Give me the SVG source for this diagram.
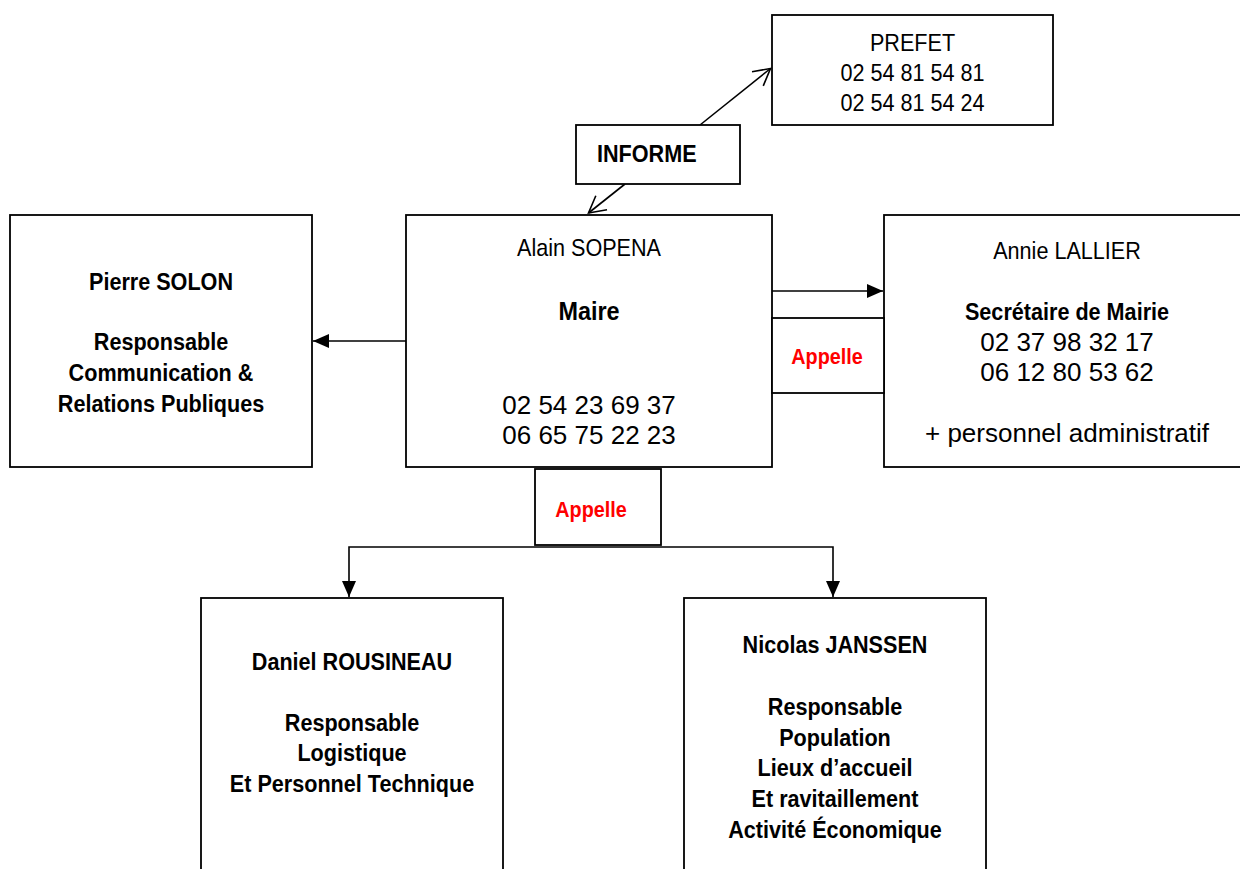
<svg xmlns="http://www.w3.org/2000/svg" width="1240" height="869" viewBox="0 0 1240 869">
<style>
.box{fill:#fff;stroke:#000;stroke-width:1.8}
.t{font-family:"Liberation Sans",Arial,sans-serif;font-size:24px;fill:#000;text-anchor:middle}
.b{font-weight:bold}
.ph{font-size:26px}
.red{fill:#f00;font-weight:bold;font-size:22px}
.c{stroke:#000;stroke-width:1.6;fill:none}
</style>
<defs>
<marker id="fa" markerUnits="userSpaceOnUse" markerWidth="16" markerHeight="14" refX="16" refY="7" orient="auto" overflow="visible">
<path d="M0,0 L16,7 L0,14 Z" fill="#000"/>
</marker>
<marker id="oa" markerUnits="userSpaceOnUse" markerWidth="20" markerHeight="20" refX="17" refY="9.5" orient="auto" overflow="visible">
<path d="M0.5,0.5 L17,9.5 L0.5,18.5" fill="none" stroke="#000" stroke-width="1.6"/>
</marker>
</defs>
<rect width="1240" height="869" fill="#fff"/>

<g id="connectors">
<line class="c" x1="406" y1="341" x2="313" y2="341" marker-end="url(#fa)"/>
<line class="c" x1="772" y1="291" x2="883" y2="291" marker-end="url(#fa)"/>
<line class="c" x1="700" y1="125" x2="770.5" y2="68.5" marker-end="url(#oa)"/>
<line class="c" x1="625" y1="184" x2="588.5" y2="213" marker-end="url(#oa)"/>
<path class="c" d="M591,547 H349 V597" marker-end="url(#fa)"/>
<path class="c" d="M591,547 H833 V597" marker-end="url(#fa)"/>
</g>

<g id="prefet">
<rect class="box" x="772" y="15" width="281" height="110"/>
<g transform="translate(912.5,0) scale(0.9,1)">
<text class="t" x="0" y="51.5">PREFET</text>
<text class="t" x="0" y="81.5">02 54 81 54 81</text>
<text class="t" x="0" y="111.5">02 54 81 54 24</text>
</g>
</g>

<g id="informe">
<rect class="box" x="576" y="125" width="164" height="59"/>
<g transform="translate(597,0) scale(0.9,1)">
<text class="t b" x="0" y="162" style="text-anchor:start">INFORME</text>
</g>
</g>

<g id="maire">
<rect class="box" x="406" y="215" width="366" height="252"/>
<g transform="translate(589,0) scale(0.9,1)">
<text class="t" x="0" y="256.5">Alain SOPENA</text>
<text class="t b" x="0" y="320.5" style="font-size:26px">Maire</text>
</g>
<text class="t ph" x="589" y="414">02 54 23 69 37</text>
<text class="t ph" x="589" y="444">06 65 75 22 23</text>
</g>

<g id="annie">
<rect class="box" x="884" y="215" width="380" height="252"/>
<g transform="translate(1067,0) scale(0.9,1)">
<text class="t" x="0" y="259">Annie LALLIER</text>
<text class="t b" x="0" y="320">Secrétaire de Mairie</text>
</g>
<text class="t ph" x="1067" y="350.5">02 37 98 32 17</text>
<text class="t ph" x="1067" y="381">06 12 80 53 62</text>
<text class="t ph" x="1067" y="442">+ personnel administratif</text>
</g>

<g id="pierre">
<rect class="box" x="10" y="215" width="302" height="252"/>
<g transform="translate(161,0) scale(0.9,1)">
<text class="t b" x="0" y="290">Pierre SOLON</text>
<text class="t b" x="0" y="350.5">Responsable</text>
<text class="t b" x="0" y="381.2">Communication &amp;</text>
<text class="t b" x="0" y="412">Relations Publiques</text>
</g>
</g>

<g id="appelle-right">
<rect class="box" x="772" y="318" width="112" height="75"/>
<g transform="translate(827,0) scale(0.9,1)">
<text class="t red" x="0" y="364.5">Appelle</text>
</g>
</g>

<g id="appelle-bottom">
<rect class="box" x="535" y="469" width="126" height="76"/>
<g transform="translate(591,0) scale(0.9,1)">
<text class="t red" x="0" y="517">Appelle</text>
</g>
</g>

<g id="daniel">
<rect class="box" x="201" y="598" width="302" height="300"/>
<g transform="translate(352,0) scale(0.9,1)">
<text class="t b" x="0" y="670">Daniel ROUSINEAU</text>
<text class="t b" x="0" y="731">Responsable</text>
<text class="t b" x="0" y="761.5">Logistique</text>
<text class="t b" x="0" y="792">Et Personnel Technique</text>
</g>
</g>

<g id="nicolas">
<rect class="box" x="684" y="598" width="302" height="300"/>
<g transform="translate(835,0) scale(0.9,1)">
<text class="t b" x="0" y="653.5">Nicolas JANSSEN</text>
<text class="t b" x="0" y="715">Responsable</text>
<text class="t b" x="0" y="745.6">Population</text>
<text class="t b" x="0" y="776.3">Lieux d’accueil</text>
<text class="t b" x="0" y="807">Et ravitaillement</text>
<text class="t b" x="0" y="837.7">Activité Économique</text>
</g>
</g>
</svg>
